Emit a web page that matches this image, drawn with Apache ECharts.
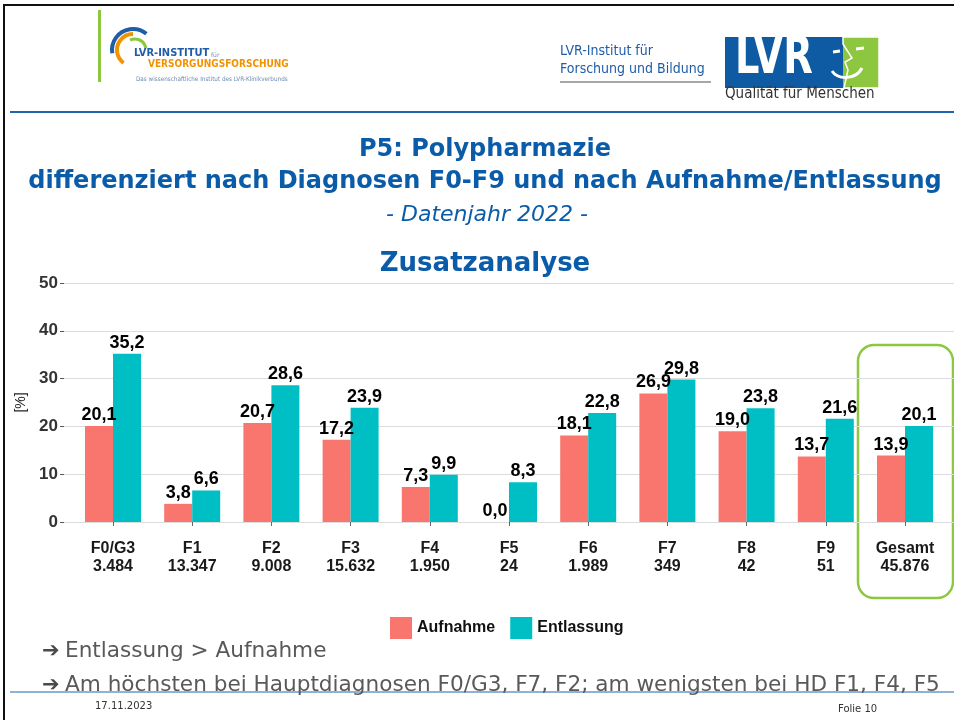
<!DOCTYPE html>
<html>
<head>
<meta charset="utf-8">
<script src="https://cdn.jsdelivr.net/npm/echarts@6/dist/echarts.min.js"></script>
<style>
  html, body { margin: 0; padding: 0; background: #fff; }
  #chart { width: 954px; height: 720px; }
</style>
</head>
<body>
<div id="chart"></div>
<script>
// data
const categories = ['F0/G3', 'F1', 'F2', 'F3', 'F4', 'F5', 'F6', 'F7', 'F8', 'F9', 'Gesamt'];
const caseCounts = ['3.484', '13.347', '9.008', '15.632', '1.950', '24', '1.989', '349', '42', '51', '45.876'];
const aufnahme = [20.1, 3.8, 20.7, 17.2, 7.3, 0.0, 18.1, 26.9, 19.0, 13.7, 13.9];
const entlassung = [35.2, 6.6, 28.6, 23.9, 9.9, 8.3, 22.8, 29.8, 23.8, 21.6, 20.1];
const yTicks = [0, 10, 20, 30, 40, 50];

const blue = '#0B5CA8';
const chartFont = 'Liberation Sans';
const fmt = v => v.toFixed(1).replace('.', ',');

const chart = echarts.init(document.getElementById('chart'));

const option = {
  backgroundColor: '#fff',
  animation: false,
  textStyle: { fontFamily: chartFont },
  legend: {
    left: 385,
    top: 612,
    itemWidth: 22,
    itemHeight: 22,
    itemGap: 15,
    icon: 'rect',
    textStyle: { fontSize: 16, fontWeight: 'bold', color: '#111', fontFamily: chartFont },
    data: ['Aufnahme', 'Entlassung']
  },
  grid: [
    // grid for y axis + gridlines (wider, like ggplot panel)
    { left: 64, right: 0, top: 283, bottom: 198 },
    // grid for the bars
    { left: 73.4, right: 9.4, top: 283, bottom: 198 }
  ],
  xAxis: [
    { gridIndex: 0, type: 'value', min: 0, max: 1, show: false },
    {
      gridIndex: 1,
      type: 'category',
      data: categories,
      axisLine: { show: false },
      axisTick: { show: true, alignWithLabel: true, length: 4, lineStyle: { color: '#666' } },
      axisLabel: {
        margin: 18,
        fontSize: 16,
        fontWeight: 'bold',
        color: '#1a1a1a',
        lineHeight: 18,
        formatter: (v, i) => v + '\n' + caseCounts[i]
      }
    }
  ],
  yAxis: [
    {
      gridIndex: 0,
      type: 'value',
      min: yTicks[0],
      max: yTicks[yTicks.length - 1],
      interval: 10,
      name: '[%]',
      nameLocation: 'middle',
      nameGap: 33,
      nameRotate: 90,
      nameTextStyle: { fontSize: 14, color: '#222', fontFamily: chartFont },
      axisLine: { show: false },
      axisTick: { show: true, length: 4, lineStyle: { color: '#555' } },
      axisLabel: { margin: 6, fontSize: 17, fontWeight: 'bold', color: '#333' },
      splitLine: { lineStyle: { color: '#DCDCDC', width: 1 } }
    },
    {
      gridIndex: 1,
      type: 'value',
      min: 0,
      max: 50,
      interval: 10,
      show: false
    }
  ],
  series: [
    {
      name: 'Aufnahme',
      type: 'bar',
      xAxisIndex: 1,
      yAxisIndex: 1,
      data: aufnahme,
      barWidth: 28,
      barGap: '0%',
      itemStyle: { color: '#F8766D' },
      label: {
        show: true, position: 'top', distance: 2,
        fontSize: 18, fontWeight: 'bold', color: '#000',
        formatter: p => fmt(p.value)
      }
    },
    {
      name: 'Entlassung',
      type: 'bar',
      xAxisIndex: 1,
      yAxisIndex: 1,
      data: entlassung,
      barWidth: 28,
      barGap: '0%',
      itemStyle: { color: '#00BFC4' },
      label: {
        show: true, position: 'top', distance: 2,
        fontSize: 18, fontWeight: 'bold', color: '#000',
        formatter: p => fmt(p.value)
      }
    }
  ],
  graphic: [
    // slide frame
    { type: 'line', shape: { x1: 3, y1: 5, x2: 954, y2: 5 }, style: { stroke: '#111', lineWidth: 2 } },
    { type: 'line', shape: { x1: 4, y1: 5, x2: 4, y2: 720 }, style: { stroke: '#111', lineWidth: 2 } },
    { type: 'line', shape: { x1: 10, y1: 112, x2: 954, y2: 112 }, style: { stroke: '#1F64AE', lineWidth: 2 } },
    { type: 'line', shape: { x1: 10, y1: 692, x2: 954, y2: 692 }, style: { stroke: '#1F64AE', lineWidth: 1 } },

    // left logo
    { type: 'rect', shape: { x: 98, y: 10, width: 3, height: 72 }, style: { fill: '#8DC63F' } },
    { type: 'arc', shape: { cx: 133, cy: 50, r: 21, startAngle: Math.PI * 0.95, endAngle: Math.PI * 1.72 }, style: { stroke: '#1F5DA8', lineWidth: 4, fill: null } },
    { type: 'arc', shape: { cx: 133, cy: 50, r: 16, startAngle: Math.PI * 0.7, endAngle: Math.PI * 1.5 }, style: { stroke: '#F39200', lineWidth: 4, fill: null } },
    { type: 'arc', shape: { cx: 135, cy: 50, r: 11, startAngle: Math.PI * 1.35, endAngle: Math.PI * 1.95 }, style: { stroke: '#8DC63F', lineWidth: 3, fill: null } },
    { type: 'text', left: 134, top: 48, style: { text: 'LVR-INSTITUT', font: 'bold 11px "DejaVu Sans Condensed", "DejaVu Sans"', fill: '#1F5DA8' } },
    { type: 'text', left: 211, top: 52, style: { text: 'für', font: '6px "DejaVu Sans"', fill: '#7a8fa8' } },
    { type: 'text', left: 148, top: 59, style: { text: 'VERSORGUNGSFORSCHUNG', font: 'bold 10px "DejaVu Sans Condensed", "DejaVu Sans"', fill: '#F39200' } },
    { type: 'text', left: 136, top: 76, style: { text: 'Das wissenschaftliche Institut des LVR-Klinikverbunds', font: '6.3px "DejaVu Sans Condensed", "DejaVu Sans"', fill: '#6d8bb0' } },

    // right logo
    { type: 'text', left: 560, top: 44, style: { text: 'LVR-Institut für', font: '14px "DejaVu Sans Condensed", "DejaVu Sans"', fill: '#1F5DA8' } },
    { type: 'text', left: 560, top: 62, style: { text: 'Forschung und Bildung', font: '14px "DejaVu Sans Condensed", "DejaVu Sans"', fill: '#1F5DA8' } },
    { type: 'line', shape: { x1: 560, y1: 82, x2: 711, y2: 82 }, style: { stroke: '#8a8a8a', lineWidth: 1.5 } },
    { type: 'rect', shape: { x: 725, y: 37, width: 118, height: 51 }, style: { fill: '#0E5BA3' } },
    { type: 'rect', shape: { x: 843, y: 37, width: 36, height: 51 }, style: { fill: '#8DC63F' } },
    { type: 'polygon', shape: { points: [[843, 37], [843, 44], [852, 58], [845, 62], [848, 70], [844, 88], [879, 88], [879, 37]] }, style: { fill: '#8DC63F', stroke: '#fff', lineWidth: 1.5 } },
    { type: 'text', x: 735, y: 33, scaleX: 0.82, style: { text: 'LVR', font: 'bold 52px "DejaVu Sans Condensed", "DejaVu Sans"', fill: '#fff' } },
    { type: 'line', shape: { x1: 833, y1: 52, x2: 840, y2: 51 }, style: { stroke: '#fff', lineWidth: 3 } },
    { type: 'line', shape: { x1: 856, y1: 49, x2: 864, y2: 48 }, style: { stroke: '#fff', lineWidth: 3 } },
    { type: 'bezierCurve', shape: { x1: 832, y1: 71, x2: 862, y2: 68, cpx1: 838, cpy1: 80, cpx2: 856, cpy2: 80 }, style: { stroke: '#fff', lineWidth: 3, fill: null } },
    { type: 'text', left: 725, top: 87, style: { text: 'Qualität für Menschen', font: '15px "DejaVu Sans Condensed", "DejaVu Sans"', fill: '#333' } },

    // titles
    { type: 'text', x: 485, y: 138, style: { text: 'P5: Polypharmazie', textAlign: 'center', font: 'bold 24px "DejaVu Sans"', fill: blue } },
    { type: 'text', x: 485, y: 170, style: { text: 'differenziert nach Diagnosen F0-F9 und nach Aufnahme/Entlassung', textAlign: 'center', font: 'bold 24px "DejaVu Sans"', fill: blue } },
    { type: 'text', x: 487, y: 204, style: { text: '- Datenjahr 2022 -', textAlign: 'center', font: 'italic 22px "DejaVu Sans"', fill: blue } },
    { type: 'text', x: 485, y: 251, style: { text: 'Zusatzanalyse', textAlign: 'center', font: 'bold 26px "DejaVu Sans"', fill: blue } },

    // highlight around "Gesamt"
    { type: 'rect', shape: { x: 858, y: 345, width: 95, height: 253, r: 16 }, style: { fill: null, stroke: '#8DC63F', lineWidth: 2.5 } },

    // bottom notes
    { type: 'text', left: 42, top: 641, style: { text: '➔', font: '21px "DejaVu Sans"', fill: '#4a4a4a' } },
    { type: 'text', left: 65, top: 640, style: { text: 'Entlassung > Aufnahme', font: '21.6px "DejaVu Sans"', fill: '#595959' } },
    { type: 'text', left: 42, top: 675, style: { text: '➔', font: '21px "DejaVu Sans"', fill: '#4a4a4a' } },
    { type: 'text', left: 65, top: 674, style: { text: 'Am höchsten bei Hauptdiagnosen F0/G3, F7, F2; am wenigsten bei HD F1, F4, F5', font: '21.6px "DejaVu Sans"', fill: '#595959' } },
    { type: 'text', left: 95, top: 701, style: { text: '17.11.2023', font: '10px "DejaVu Sans"', fill: '#333' } },
    { type: 'text', left: 838, top: 704, style: { text: 'Folie 10', font: '10px "DejaVu Sans"', fill: '#333' } }
  ]
};

chart.setOption(option);
</script>
</body>
</html>
